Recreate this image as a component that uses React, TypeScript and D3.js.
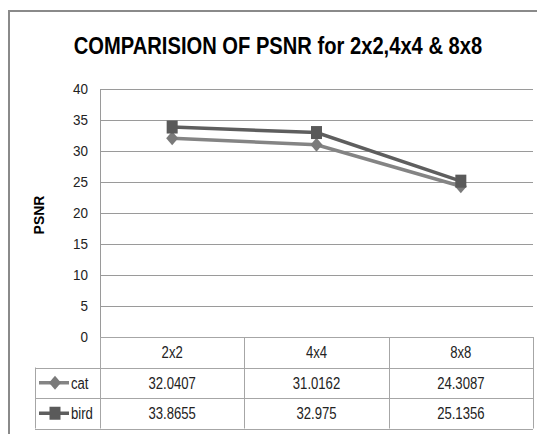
import { useEffect, useRef } from "react";
import * as d3 from "d3";

const categories = ["2x2", "4x4", "8x8"];
const catValues = [32.0407, 31.0162, 24.3087];
const birdValues = [33.8655, 32.975, 25.1356];
const catLabels = ["32.0407", "31.0162", "24.3087"];
const birdLabels = ["33.8655", "32.975", "25.1356"];
const yTicks = [0, 5, 10, 15, 20, 25, 30, 35, 40];

const W = 537;
const H = 434;
const FONT = "'Liberation Sans', Arial, sans-serif";

// narrow text helper: squeeze horizontally to mimic a condensed face
const addText = (
  g: any,
  x: number,
  y: number,
  txt: string,
  size: number,
  sx: number,
  anchor = "middle",
  bold = false
) =>
  g
    .append("text")
    .attr("transform", `translate(${x},${y}) scale(${sx},1)`)
    .attr("text-anchor", anchor)
    .style("font-family", FONT)
    .style("font-size", `${size}px`)
    .style("font-weight", bold ? "bold" : "normal")
    .attr("fill", bold ? "#000" : "#222")
    .text(txt);

const App = () => {
  const svgRef = useRef<SVGSVGElement | null>(null);

  useEffect(() => {
    const svg = d3.select(svgRef.current);
    svg.selectAll("*").remove();

    const plot = { left: 100, right: 533, top: 89, bottom: 337 };
    const rowH = 30.5;

    const x = d3
      .scaleBand<string>()
      .domain(categories)
      .range([plot.left, plot.right]);
    const y = d3.scaleLinear().domain([0, 40]).range([plot.bottom, plot.top]);

    // outer chart border (cropped)
    svg
      .append("path")
      .attr("d", `M9,${H} L9,11 L${W},11`)
      .attr("fill", "none")
      .attr("stroke", "#8a8a8a")
      .attr("stroke-width", 2);

    // title
    addText(svg, 278, 54, "COMPARISION OF PSNR for 2x2,4x4 & 8x8", 24, 0.84, "middle", true);

    // gridlines
    svg
      .append("g")
      .selectAll("line")
      .data(yTicks)
      .join("line")
      .attr("x1", plot.left)
      .attr("x2", plot.right)
      .attr("y1", (d) => Math.round(y(d)) + 0.5)
      .attr("y2", (d) => Math.round(y(d)) + 0.5)
      .attr("stroke", "#9a9a9a")
      .attr("stroke-width", 1.2);

    // y axis line
    svg
      .append("line")
      .attr("x1", plot.left + 0.5)
      .attr("x2", plot.left + 0.5)
      .attr("y1", plot.top)
      .attr("y2", plot.bottom)
      .attr("stroke", "#9a9a9a");

    // y tick labels
    const yl = svg.append("g");
    yTicks.forEach((t) => addText(yl, 88, y(t) + 5, String(t), 15, 0.9, "end"));

    // y axis title
    svg
      .append("text")
      .attr("transform", `translate(44,${(plot.top + plot.bottom) / 2 + 2}) rotate(-90)`)
      .attr("text-anchor", "middle")
      .style("font-family", FONT)
      .style("font-weight", "bold")
      .style("font-size", "14px")
      .attr("fill", "#000")
      .text("PSNR");

    // data table
    const tbl = svg.append("g");
    const tTop = plot.bottom;
    const tBottom = tTop + rowH * 3;
    const stroke = "#a6a6a6";
    tbl
      .append("line")
      .attr("x1", plot.left)
      .attr("x2", plot.right)
      .attr("y1", tTop + 0.5)
      .attr("y2", tTop + 0.5)
      .attr("stroke", stroke);
    [1, 2, 3].forEach((i) => {
      tbl
        .append("line")
        .attr("x1", 35)
        .attr("x2", plot.right)
        .attr("y1", Math.round(tTop + rowH * i) + 0.5)
        .attr("y2", Math.round(tTop + rowH * i) + 0.5)
        .attr("stroke", stroke);
    });
    tbl
      .append("line")
      .attr("x1", 35.5)
      .attr("x2", 35.5)
      .attr("y1", tTop + rowH)
      .attr("y2", tBottom)
      .attr("stroke", stroke);
    [...categories.map((c) => x(c) as number), plot.right].forEach((vx) => {
      tbl
        .append("line")
        .attr("x1", Math.round(vx) + 0.5)
        .attr("x2", Math.round(vx) + 0.5)
        .attr("y1", tTop)
        .attr("y2", tBottom)
        .attr("stroke", stroke);
    });

    const cx = (i: number) => (x(categories[i]) as number) + x.bandwidth() / 2;
    const cellText = (row: number, labels: string[]) => {
      labels.forEach((l, i) =>
        addText(tbl, cx(i), tTop + rowH * row + rowH / 2 + 6, l, 16, 0.82)
      );
    };
    cellText(0, categories);
    cellText(1, catLabels);
    cellText(2, birdLabels);

    const series = [
      { name: "cat", values: catValues, line: "#848484", marker: "#7a7a7a", shape: "diamond" },
      { name: "bird", values: birdValues, line: "#5e5e5e", marker: "#5a5a5a", shape: "square" },
    ];

    const line = d3
      .line<number>()
      .x((_, i) => cx(i))
      .y((d) => y(d));

    const drawMarker = (g: any, shape: string, mx: number, my: number, color: string) => {
      if (shape === "square") {
        g.append("rect")
          .attr("x", mx - 5.5)
          .attr("y", my - 6.5)
          .attr("width", 11)
          .attr("height", 13)
          .attr("fill", color);
      } else {
        g.append("path")
          .attr("d", `M${mx},${my - 7} L${mx + 6},${my} L${mx},${my + 7} L${mx - 6},${my} Z`)
          .attr("fill", color);
      }
    };

    series.forEach((s) => {
      const g = svg.append("g");
      g.append("path")
        .attr("d", line(s.values) || "")
        .attr("fill", "none")
        .attr("stroke", s.line)
        .attr("stroke-width", 3.5);
      s.values.forEach((v, i) => drawMarker(g, s.shape, cx(i), y(v), s.marker));
    });

    // legend keys in table
    series.forEach((s, k) => {
      const ly = tTop + rowH * (k + 1) + rowH / 2;
      const g = svg.append("g");
      g.append("line")
        .attr("x1", 39)
        .attr("x2", 69)
        .attr("y1", ly)
        .attr("y2", ly)
        .attr("stroke", s.line)
        .attr("stroke-width", 3.5);
      drawMarker(g, s.shape, 55, ly, s.marker);
      addText(g, 71, ly + 6, s.name, 16, 0.82, "start");
    });
  }, []);

  return (
    <svg
      ref={svgRef}
      width={W}
      height={H}
      style={{ position: "absolute", left: 0, top: 0, background: "#fff" }}
    />
  );
};

export default App;
